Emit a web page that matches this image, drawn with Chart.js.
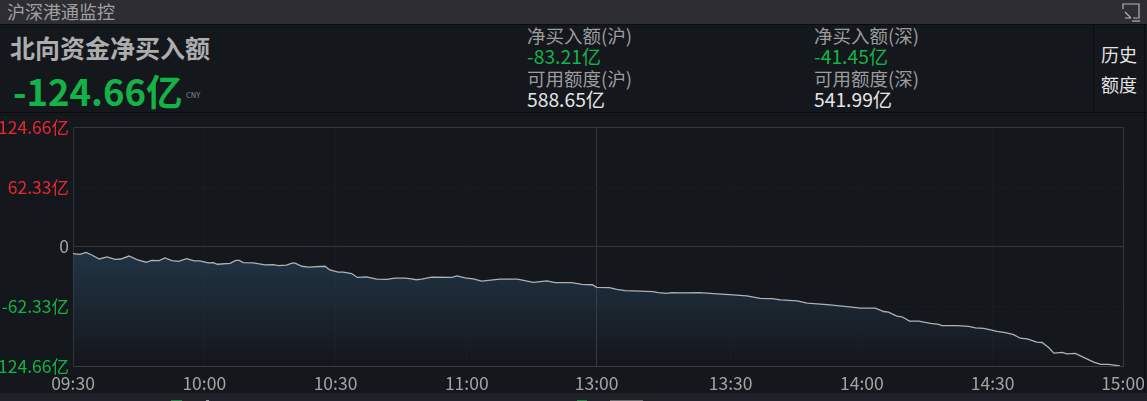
<!DOCTYPE html>
<html>
<head>
<meta charset="utf-8">
<title>沪深港通监控</title>
<script src="https://cdn.jsdelivr.net/npm/chart.js@4/dist/chart.umd.min.js"></script>
<style>
  html, body { margin: 0; padding: 0; background: #14171c; }
  body { position: relative; width: 1147px; height: 401px; overflow: hidden; font-family: "Noto Sans CJK SC", sans-serif; color: #aaa; }
  .abs { position: absolute; white-space: nowrap; line-height: 1; }
  #bar { left: 0; top: 0; width: 1147px; height: 24px; background: #2d2d33; }
  #sep1 { left: 0; top: 24px; width: 1147px; height: 1px; background: #0b0c0f; }
  #sep2 { left: 0; top: 112px; width: 1147px; height: 1px; background: #0b0c0f; }
  #sep3 { left: 1093px; top: 25px; width: 1px; height: 87px; background: #0b0c0f; }
  #sep4 { left: 1144px; top: 25px; width: 1px; height: 368px; background: #0b0c0f; }
  #foot { left: 0; top: 393px; width: 1147px; height: 8px; background: #1f2028; }
  #wrap { left: 0; top: 113px; width: 1147px; height: 288px; }
  .lbl { font-size: 18.5px; color: #9c9c9c; }
  .val { font-size: 19.3px; }
  .green { color: #14b348; }
  .white { color: #e4e4e4; }
  .bit { top: 400px; height: 1px; opacity: 0.7; }
</style>
</head>
<body>
<div class="abs" id="bar"></div>
<div class="abs" id="sep1"></div>
<div class="abs" id="sep2"></div>
<div class="abs" id="sep3"></div>
<div class="abs" id="sep4"></div>
<div class="abs" id="foot"></div>
<div class="abs bit" style="left:171px;width:11px;background:#14b348"></div>
<div class="abs bit" style="left:206px;width:3px;background:#cfcfcf"></div>
<div class="abs bit" style="left:577px;width:10px;background:#14b348"></div>
<div class="abs bit" style="left:610px;width:33px;background:#8c8c8c"></div>

<div class="abs" style="left:7px;top:2px;font-size:18px;color:#a0a0a0">沪深港通监控</div>
<svg class="abs" style="left:1122px;top:2px" width="20" height="20" viewBox="0 0 20 20" fill="none" stroke="#b5b5b5" stroke-width="1.2">
  <path d="M1 7V2h16v14h-6M3 10l6 6M3 16h6"/><path d="M10 19h8"/>
</svg>

<div class="abs" style="left:10px;top:35px;font-size:25px;font-weight:700;color:#adadad">北向资金净买入额</div>
<div class="abs" style="left:13px;top:73px;font-size:36.5px;font-weight:700;color:#14b348">-124.66亿</div>
<div class="abs" style="left:186px;top:91px;font-size:7.5px;color:#8a8a8a">CNY</div>

<div class="abs lbl" style="left:527px;top:26px">净买入额(沪)</div>
<div class="abs val green" style="left:527px;top:47px">-83.21亿</div>
<div class="abs lbl" style="left:527px;top:69px">可用额度(沪)</div>
<div class="abs val white" style="left:527px;top:90px">588.65亿</div>

<div class="abs lbl" style="left:814px;top:26px">净买入额(深)</div>
<div class="abs val green" style="left:814px;top:47px">-41.45亿</div>
<div class="abs lbl" style="left:814px;top:69px">可用额度(深)</div>
<div class="abs val white" style="left:814px;top:90px">541.99亿</div>

<div class="abs white" style="left:1101px;top:45px;font-size:18px">历史</div>
<div class="abs white" style="left:1101px;top:75px;font-size:18px">额度</div>

<div class="abs" id="wrap"><canvas id="chart" width="1147" height="288"></canvas></div>

<script>
// trading minutes since 09:30 (lunch break removed)
const minutes = [0, 1.6, 3, 4.3, 6, 7.8, 9.6, 10.9, 12.8, 14.6, 16.7, 18, 19.7, 21, 22.6, 24.1, 26, 27.7, 29, 30.9, 32.1, 33, 35.9, 37.2, 38, 38.9, 41.2, 43.9, 45.8, 46.9, 48.8, 50.2, 50.9, 52.3, 53.8, 57.6, 58.7, 60.6, 61.8, 63.7, 65, 67.1, 69.4, 71.7, 73.6, 75.9, 77.4, 78.5, 79.7, 82, 86.6, 87.8, 89.6, 91.5, 93.4, 97.6, 101.6, 105.2, 108.3, 110.2, 114, 116.3, 118.7, 119.7, 122.6, 124.3, 126.2, 129.6, 132.6, 133.8, 135.7, 136.8, 139.1, 143.3, 146.4, 150.9, 154, 157.1, 159.8, 161.7, 165.5, 167.8, 172.4, 176.9, 180, 183.4, 185.3, 186.4, 188.3, 189.5, 191.2, 193.3, 196, 197.9, 198.6, 202.1, 204.7, 206.3, 208.2, 211.2, 213.1, 215, 216.5, 218.1, 220.3, 221.5, 223, 224.2, 226.1, 227.2, 229.1, 231, 233.3, 234.9, 236.7, 239.3];
// net northbound inflow, 亿
const netInflow = [-7.25, -7.9, -5.9, -8.6, -12.8, -10.7, -13.1, -12.8, -9.7, -13.5, -16.2, -14.2, -14.5, -11.7, -14.5, -15.2, -12.4, -14.8, -14.8, -16.9, -16.6, -18.3, -17.3, -14.2, -14.2, -16.6, -16.9, -19, -18.6, -19.7, -19.3, -16.9, -17.3, -20.4, -21.4, -20.4, -24.2, -26.6, -26.6, -28, -32.1, -31.4, -33.8, -34.2, -32.8, -32.8, -33.5, -34.5, -33.8, -31.8, -32.1, -30.4, -32.5, -33.5, -35.9, -33.8, -33.8, -37.3, -35.6, -37.6, -37.6, -39.4, -39.7, -42.5, -42.8, -44.5, -45.9, -46.3, -47, -48, -48.7, -48, -48.3, -48, -49, -50.4, -51.3, -53.9, -54.2, -55.6, -56.6, -59, -60.4, -62.5, -64.2, -64.2, -67.7, -68.4, -72.5, -73.2, -77.7, -77.7, -80.1, -81.1, -82.5, -82.5, -83.2, -84.9, -85.3, -88.4, -89.8, -91.8, -95.6, -96.3, -99.8, -100.1, -105.3, -111.2, -110.5, -111.9, -111.5, -115.7, -120.5, -122.9, -122.9, -124.66];
const timeLabels = ['09:30', '10:00', '10:30', '11:00', '13:00', '13:30', '14:00', '14:30', '15:00'];
// where the time ticks sit
const timeTicks = [0, 30, 60, 90, 119.7, 150.3, 180.3, 210.2, 240];
const yTicks = [124.66, 62.33, 0, -62.33, -124.66];

const points = minutes.map((m, i) => ({ x: m, y: netInflow[i] }));

function yLabel(v) {
    return v === 0 ? '0' : v.toFixed(2) + '亿';
}

function yColor(ctx) {
    const v = ctx.tick.value;
    if (v > 0) { return '#ec2733'; }
    if (v < 0) { return '#14b348'; }
    return '#a3a3a3';
}

function areaFill(ctx) {
    const { chartArea, ctx: c, scales } = ctx.chart;
    if (!chartArea) { return 'transparent'; }
    const g = c.createLinearGradient(0, scales.y.getPixelForValue(0), 0, chartArea.bottom);
    g.addColorStop(0, 'rgba(48, 85, 112, 0.5)');
    g.addColorStop(1, 'rgba(48, 85, 112, 0)');
    return g;
}

// solid lines for the frame, the lunch break and zero; the rest are faint dots
function xSolid(ctx) {
    const v = ctx.tick && ctx.tick.value;
    return v === 0 || v === 240 || v === 119.7;
}

function ySolid(ctx) {
    const v = ctx.tick && ctx.tick.value;
    return v === 0 || v === 124.66 || v === -124.66;
}

new Chart(document.getElementById('chart'), {
    type: 'line',
    data: {
        datasets: [{
            data: points,
            borderColor: '#aeb2b6',
            borderWidth: 1.3,
            pointRadius: 0,
            tension: 0,
            fill: 'start',
            backgroundColor: areaFill,
        }],
    },
    options: {
        responsive: false,
        animation: false,
        events: [],
        layout: { padding: { top: 14, right: 24, bottom: 8, left: 0 } },
        plugins: { legend: { display: false }, tooltip: { enabled: false } },
        scales: {
            x: {
                type: 'linear',
                min: 0,
                max: 240,
                afterBuildTicks: (axis) => {
                    axis.ticks = timeTicks.map((v) => ({ value: v }));
                },
                afterFit: (axis) => {
                    axis.height = 27;
                    // the 15:00 label may hang past the plot
                    axis.paddingRight = 0;
                },
                ticks: {
                    autoSkip: false,
                    maxRotation: 0,
                    padding: 7,
                    color: '#a3a3a3',
                    font: { family: '"Noto Sans CJK SC"', size: 17.5 },
                    callback: (v) => timeLabels[timeTicks.indexOf(v)],
                },
                grid: {
                    drawTicks: false,
                    color: (ctx) => (xSolid(ctx) ? '#35383d' : '#202327'),
                },
                border: {
                    color: '#3a3d42',
                    dash: (ctx) => (xSolid(ctx) ? [] : [1, 2]),
                },
            },
            y: {
                min: -124.66,
                max: 124.66,
                afterBuildTicks: (axis) => {
                    axis.ticks = yTicks.map((v) => ({ value: v }));
                },
                afterFit: (axis) => { axis.width = 73; },
                ticks: {
                    autoSkip: false,
                    padding: 4,
                    color: yColor,
                    font: { family: '"Noto Sans CJK SC"', size: 17.5 },
                    callback: yLabel,
                },
                grid: {
                    drawTicks: false,
                    color: (ctx) => (ySolid(ctx) ? '#33363b' : '#202327'),
                },
                border: {
                    color: '#2e3137',
                    dash: (ctx) => (ySolid(ctx) ? [] : [1, 2]),
                },
            },
        },
    },
});
</script>
</body>
</html>
